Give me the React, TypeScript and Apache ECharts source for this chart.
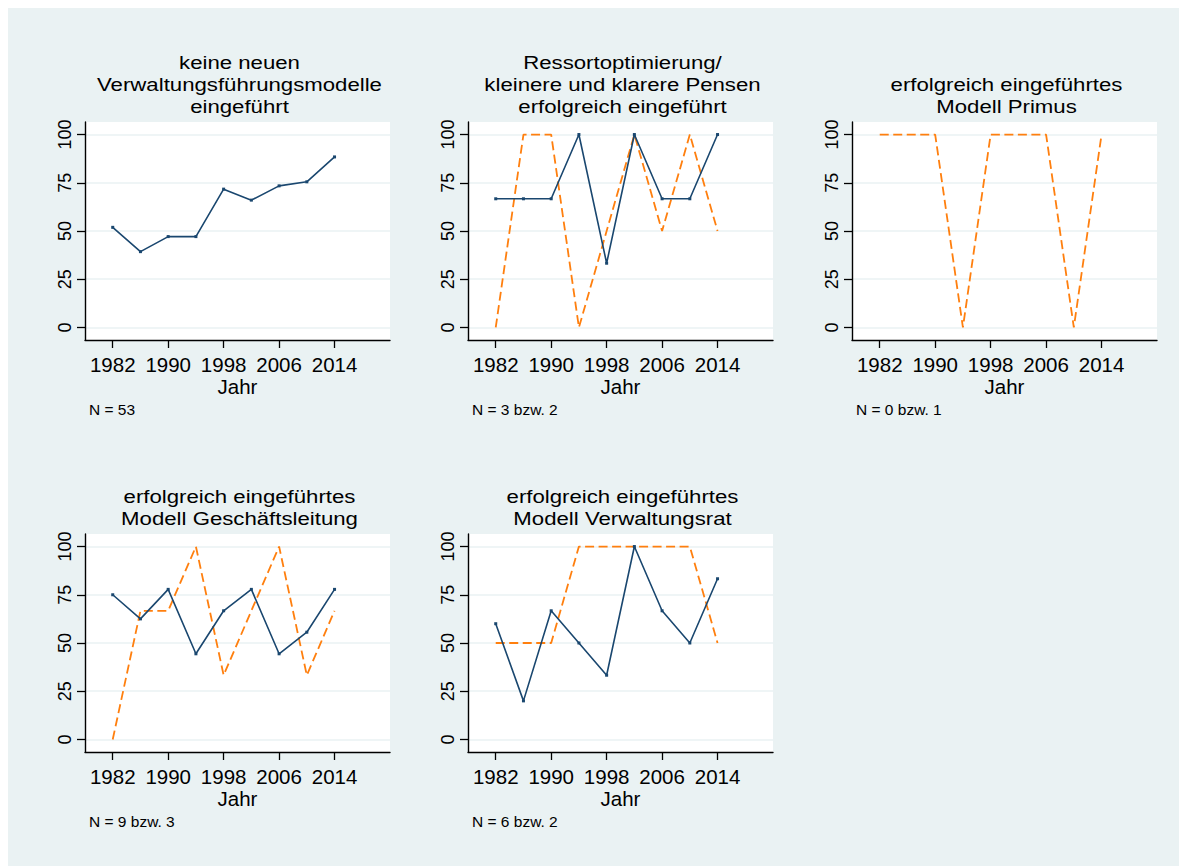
import React, { useEffect, useRef } from "react";
import * as echarts from "echarts";

const years = [1982, 1986, 1990, 1994, 1998, 2002, 2006, 2010, 2014];
const xTicks = [1982, 1990, 1998, 2006, 2014];
const yTicks = [0, 25, 50, 75, 100];

const titles = [
  "keine neuen\nVerwaltungsführungsmodelle\neingeführt",
  "Ressortoptimierung/\nkleinere und klarere Pensen\nerfolgreich eingeführt",
  "erfolgreich eingeführtes\nModell Primus",
  "erfolgreich eingeführtes\nModell Geschäftsleitung",
  "erfolgreich eingeführtes\nModell Verwaltungsrat",
];
const notes = ["N = 53", "N = 3 bzw. 2", "N = 0 bzw. 1", "N = 9 bzw. 3", "N = 6 bzw. 2"];

// solid navy series per panel (null = none)
const solid1 = [51.9, 39.3, 47.1, 47.1, 71.7, 66.0, 73.4, 75.5, 88.4];
const solid2 = [66.7, 66.7, 66.7, 100, 33.3, 100, 66.7, 66.7, 100];
const solid4 = [75, 62.5, 77.8, 44.4, 66.7, 77.8, 44.4, 55.6, 77.8];
const solid5 = [60, 20, 66.7, 50, 33.3, 100, 66.7, 50, 83.3];
// dashed orange series per panel
const dashed2 = [0, 100, 100, 0, 50, 100, 50, 100, 50];
const dashed3 = [100, 100, 100, 0, 100, 100, 100, 0, 100];
const dashed4 = [0, 66.7, 66.7, 100, 33.3, 66.7, 100, 33.3, 66.7];
const dashed5 = [50, 50, 50, 100, 100, 100, 100, 100, 50];

const solidSeries: (number[] | null)[] = [solid1, solid2, null, solid4, solid5];
const dashedSeries: (number[] | null)[] = [null, dashed2, dashed3, dashed4, dashed5];

// layout (px, relative to chart div)
const gridLefts = [77, 460, 844, 77, 460];
const gridTops = [114, 114, 114, 526, 526];
const GW = 305;
const GH = 218;

const NAVY = "#1A476F";
const ORANGE = "#FF7F0E";
const BG = "#EAF2F3";
const FONT = "'Liberation Sans', Arial, sans-serif";

export default function App() {
  const ref = useRef<HTMLDivElement>(null);
  useEffect(() => {
    if (!ref.current) return;
    const chart = echarts.init(ref.current, null, { renderer: "svg" });
    const grids: any[] = [];
    const xAxes: any[] = [];
    const yAxes: any[] = [];
    const series: any[] = [];
    const graphics: any[] = [];
    const axisLine = { show: true, onZero: false, lineStyle: { color: "#000", width: 1.4 } };
    for (let i = 0; i < 5; i++) {
      grids.push({
        left: gridLefts[i],
        top: gridTops[i],
        width: GW,
        height: GH,
        show: true,
        backgroundColor: "#fff",
        borderWidth: 0,
        containLabel: false,
      });
      xAxes.push({
        gridIndex: i,
        type: "value",
        min: 1978,
        max: 2022,
        axisLine,
        axisTick: { show: true, customValues: xTicks, length: 8, lineStyle: { color: "#000", width: 1.3 } },
        axisLabel: {
          customValues: xTicks,
          formatter: (v: number) => String(v),
          fontSize: 20.5,
          color: "#000",
          fontFamily: FONT,
          margin: 14,
        },
        splitLine: { show: false },
        name: "Jahr",
        nameLocation: "middle",
        nameGap: 30,
        nameTextStyle: { fontSize: 20.5, color: "#000", fontFamily: FONT },
      });
      yAxes.push({
        gridIndex: i,
        type: "value",
        min: -6.5,
        max: 106.5,
        axisLine,
        axisTick: { show: true, customValues: yTicks, length: 8, lineStyle: { color: "#000", width: 1.3 } },
        axisLabel: {
          customValues: yTicks,
          formatter: (v: number) => String(v),
          rotate: 90,
          fontSize: 18,
          color: "#000",
          fontFamily: FONT,
          margin: 11,
        },
        splitLine: { show: true, lineStyle: { color: BG, width: 1.6 } },
      });
      const s = solidSeries[i];
      if (s) {
        series.push({
          type: "line",
          xAxisIndex: i,
          yAxisIndex: i,
          data: years.map((y, k) => [y, s[k]]),
          symbol: "rect",
          symbolSize: 3,
          showSymbol: true,
          itemStyle: { color: NAVY },
          lineStyle: { color: NAVY, width: 1.6 },
          z: 3,
        });
      }
      const d = dashedSeries[i];
      if (d) {
        series.push({
          type: "line",
          xAxisIndex: i,
          yAxisIndex: i,
          data: years.map((y, k) => [y, d[k]]),
          showSymbol: false,
          symbol: "none",
          lineStyle: { color: ORANGE, width: 1.8, type: [9, 4.5] },
          z: 2,
        });
      }
      const cx = gridLefts[i] + GW / 2 + 2;
      const lh = 22;
      const lines = titles[i].split("\n");
      lines.forEach((line, j) => {
        const center = gridTops[i] - 15 - (lines.length - 1 - j) * lh;
        graphics.push({
          type: "text",
          x: cx,
          y: center,
          scaleX: 1.2,
          style: {
            text: line,
            align: "center",
            verticalAlign: "middle",
            fontSize: 18.5,
            fontFamily: FONT,
            fill: "#000",
          },
        });
      });
      graphics.push({
        type: "text",
        x: gridLefts[i] + 4,
        y: gridTops[i] + GH + 69,
        style: {
          text: notes[i],
          align: "left",
          verticalAlign: "middle",
          fontSize: 15.5,
          fontFamily: FONT,
          fill: "#000",
        },
      });
    }
    chart.setOption({
      animation: false,
      backgroundColor: BG,
      grid: grids,
      xAxis: xAxes,
      yAxis: yAxes,
      series,
      graphic: graphics,
    });
    return () => chart.dispose();
  }, []);
  return <div ref={ref} style={{ width: 1179, height: 858 }} />;
}
